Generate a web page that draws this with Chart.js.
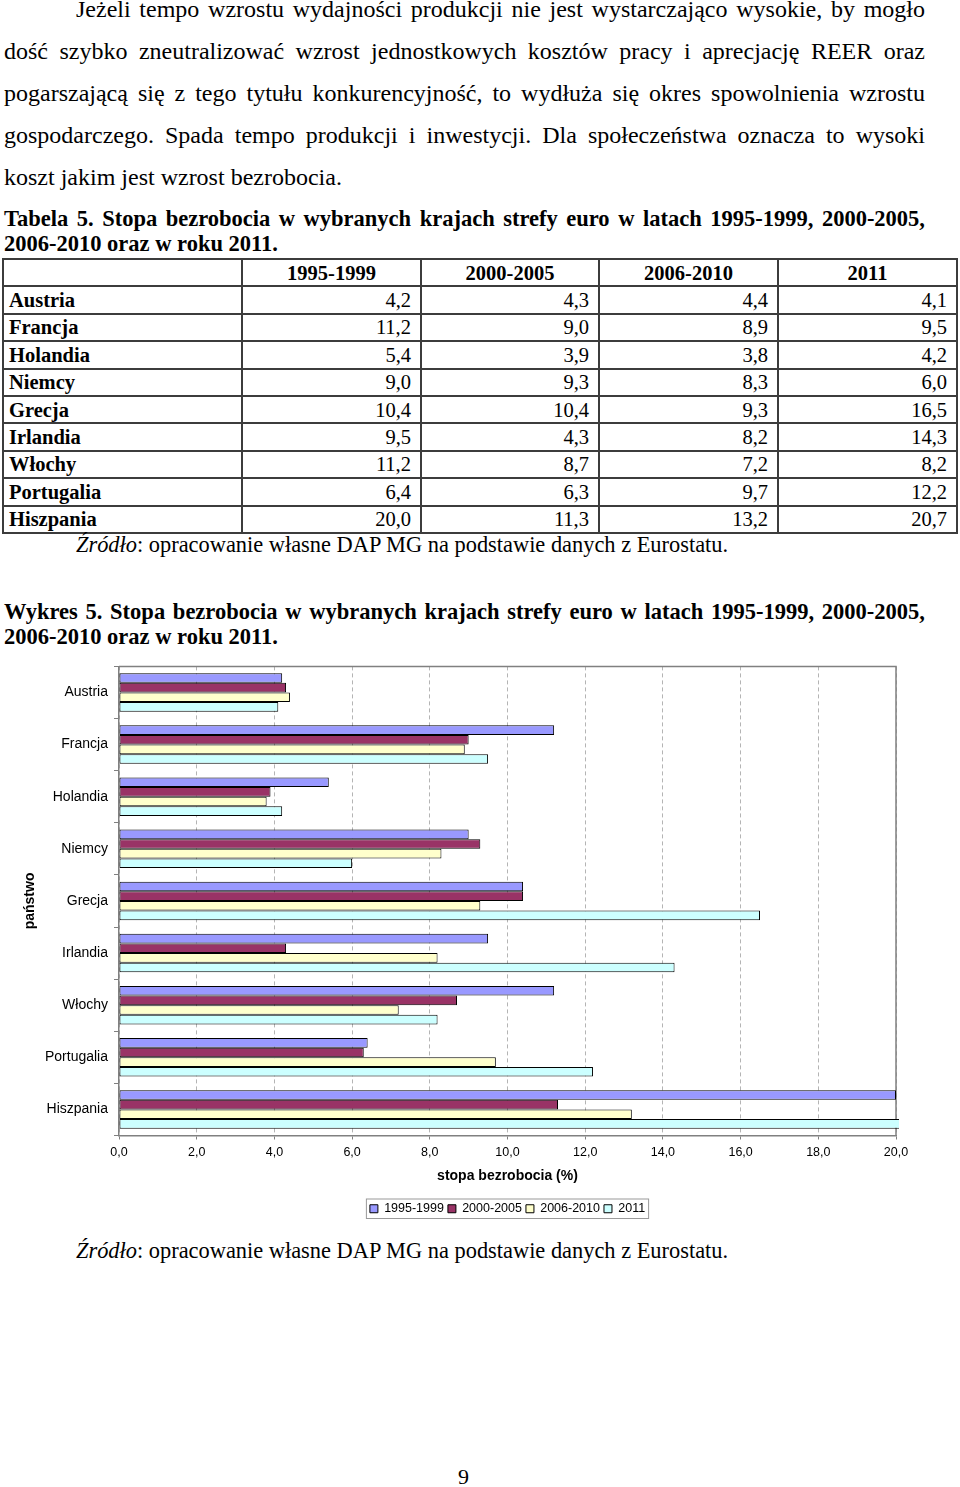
<!DOCTYPE html>
<html lang="pl">
<head>
<meta charset="utf-8">
<title>Stopa bezrobocia w wybranych krajach strefy euro</title>
<script src="https://cdn.jsdelivr.net/npm/chart.js@4.4.1/dist/chart.umd.min.js"></script>
<style>
  body { margin: 0; background: #fff; color: #000; font-family: "Liberation Serif", "Times New Roman", serif; }
  .page { position: relative; width: 960px; height: 1487px; overflow: hidden; background: #fff; }
  .block { position: absolute; left: 4px; width: 921px; }
  .block div { text-align: justify; text-align-last: justify; }
  .block div.last { text-align: left; text-align-last: left; }
  .para { top: -11.9px; font-size: 24px; line-height: 42.1px; }
  .para .indent { padding-left: 72px; }
  .caption { font-size: 22.5px; line-height: 24.7px; font-weight: bold; }
  .source { position: absolute; left: 76px; font-size: 22.4px; line-height: 26px; white-space: nowrap; }
  table { position: absolute; left: 2px; top: 258px; width: 954px; border-collapse: collapse; font-size: 20.5px; table-layout: fixed; }
  td, th { border: 2px solid #3c3c3c; height: 27.4px; padding: 0 9px; box-sizing: border-box; line-height: 22px; }
  th { font-weight: bold; text-align: center; }
  td.name { font-weight: bold; text-align: left; padding-left: 5px; }
  td.num { text-align: right; }
  #chartBox { position: absolute; left: 0; top: 652px; width: 960px; height: 573px; }
  .pageno { position: absolute; left: 458px; top: 1464px; font-size: 22px; line-height: 25px; }
</style>
</head>
<body>
<div class="page">
  <div class="block para">
    <div class="indent">Jeżeli tempo wzrostu wydajności produkcji nie jest wystarczająco wysokie, by mogło</div>
    <div>dość szybko zneutralizować wzrost jednostkowych kosztów pracy i aprecjację REER oraz</div>
    <div>pogarszającą się z tego tytułu konkurencyjność, to wydłuża się okres spowolnienia wzrostu</div>
    <div>gospodarczego. Spada tempo produkcji i inwestycji. Dla społeczeństwa oznacza to wysoki</div>
    <div class="last">koszt jakim jest wzrost bezrobocia.</div>
  </div>

  <div class="block caption" style="top:207.2px">
    <div>Tabela 5. Stopa bezrobocia w wybranych krajach strefy euro w latach 1995-1999, 2000-2005,</div>
    <div class="last">2006-2010 oraz w roku 2011.</div>
  </div>

  <table id="dataTable">
    <colgroup><col style="width:239px"><col style="width:179px"><col style="width:178px"><col style="width:179px"><col style="width:179px"></colgroup>
  </table>

  <div class="source" style="top:531.6px"><i>Źródło</i>: opracowanie własne DAP MG na podstawie danych z Eurostatu.</div>

  <div class="block caption" style="top:600px">
    <div>Wykres 5. Stopa bezrobocia w wybranych krajach strefy euro w latach 1995-1999, 2000-2005,</div>
    <div class="last">2006-2010 oraz w roku 2011.</div>
  </div>

  <div id="chartBox"><canvas id="chartCanvas"></canvas></div>

  <div class="source" style="top:1237.6px"><i>Źródło</i>: opracowanie własne DAP MG na podstawie danych z Eurostatu.</div>

  <div class="pageno">9</div>
</div>

<script>
const countries = ['Austria', 'Francja', 'Holandia', 'Niemcy', 'Grecja', 'Irlandia', 'Włochy', 'Portugalia', 'Hiszpania'];
const periods = ['1995-1999', '2000-2005', '2006-2010', '2011'];
const rate1995_1999 = [4.2, 11.2, 5.4, 9.0, 10.4, 9.5, 11.2, 6.4, 20.0];
const rate2000_2005 = [4.3, 9.0, 3.9, 9.3, 10.4, 4.3, 8.7, 6.3, 11.3];
const rate2006_2010 = [4.4, 8.9, 3.8, 8.3, 9.3, 8.2, 7.2, 9.7, 13.2];
const rate2011 = [4.1, 9.5, 4.2, 6.0, 16.5, 14.3, 8.2, 12.2, 20.7];
const seriesColors = ['#9999FF', '#993366', '#FFFFCC', '#CCFFFF'];

const allSeries = [rate1995_1999, rate2000_2005, rate2006_2010, rate2011];

function fmt(v) {
    return v.toFixed(1).replace('.', ',');
}

// table above the chart, from the same arrays
function buildTable() {
    const table = document.getElementById('dataTable');
    let head = '<tr><th></th>';
    periods.forEach(p => { head += '<th>' + p + '</th>'; });
    head += '</tr>';
    let rows = '';
    countries.forEach((c, i) => {
        rows += '<tr><td class="name">' + c + '</td>';
        allSeries.forEach(s => { rows += '<td class="num">' + fmt(s[i]) + '</td>'; });
        rows += '</tr>';
    });
    table.insertAdjacentHTML('beforeend', head + rows);
}
buildTable();

const framePlugin = {
    id: 'frame',
    beforeDatasetsDraw(chart) {
        const {ctx, chartArea: a} = chart;
        ctx.save();
        ctx.strokeStyle = '#808080';
        ctx.lineWidth = 1.5;
        ctx.beginPath();
        ctx.moveTo(a.left, a.top);
        ctx.lineTo(a.right, a.top);
        ctx.lineTo(a.right, a.bottom);
        ctx.stroke();
        ctx.restore();
    },
    afterDraw(chart) {
        const boxes = chart.legend.legendHitBoxes;
        if (!boxes || !boxes.length) return;
        const left = Math.min(...boxes.map(b => b.left));
        const right = Math.max(...boxes.map(b => b.left + b.width));
        const top = Math.min(...boxes.map(b => b.top));
        const bottom = Math.max(...boxes.map(b => b.top + b.height));
        const ctx = chart.ctx;
        ctx.save();
        ctx.strokeStyle = '#9a9a9a';
        ctx.lineWidth = 1;
        ctx.strokeRect(left - 3.5, top - 3.5, right - left + 7, bottom - top + 7);
        ctx.restore();
    }
};

const ctx = document.getElementById('chartCanvas').getContext('2d');
new Chart(ctx, {
    type: 'bar',
    data: {
        labels: countries,
        datasets: periods.map((p, i) => ({
            label: p,
            data: allSeries[i],
            backgroundColor: seriesColors[i],
            borderColor: '#000',
            borderWidth: 1,
            borderSkipped: false,
            barPercentage: 1,
            categoryPercentage: 0.74,
            clip: {left: 1, top: 1, right: 3, bottom: 1}
        }))
    },
    options: {
        indexAxis: 'y',
        responsive: true,
        maintainAspectRatio: false,
        animation: false,
        layout: { padding: { top: 7, right: 64, left: 0, bottom: 0 } },
        plugins: {
            legend: {
                position: 'bottom',
                fullSize: false,
                labels: {
                    boxWidth: 8,
                    boxHeight: 8,
                    padding: 4,
                    color: '#000',
                    font: { family: '"Liberation Sans", Arial, sans-serif', size: 12.5 }
                }
            },
            tooltip: { enabled: false }
        },
        scales: {
            x: {
                min: 0,
                max: 20,
                ticks: {
                    stepSize: 2,
                    padding: 6,
                    color: '#000',
                    font: { family: '"Liberation Sans", Arial, sans-serif', size: 12.5 },
                    callback: v => fmt(v)
                },
                grid: { color: '#b4b4b4', lineWidth: 1, tickLength: 4, tickColor: '#808080' },
                border: { display: true, color: '#808080', width: 1.5, dash: [4, 3] },
                title: {
                    display: true,
                    text: 'stopa bezrobocia (%)',
                    color: '#000',
                    padding: { top: 0, bottom: 13.6 },
                    font: { family: '"Liberation Sans", Arial, sans-serif', size: 14, weight: 'bold' }
                },
                afterFit: scale => { scale.height = 63; }
            },
            y: {
                ticks: {
                    autoSkip: false,
                    padding: 6,
                    color: '#000',
                    font: { family: '"Liberation Sans", Arial, sans-serif', size: 14 }
                },
                grid: { offset: true, drawOnChartArea: false, tickLength: 5, color: '#808080' },
                border: { display: true, color: '#808080', width: 1.5 },
                title: {
                    display: true,
                    text: 'państwo',
                    color: '#000',
                    padding: { top: 21.6, bottom: 0 },
                    font: { family: '"Liberation Sans", Arial, sans-serif', size: 14, weight: 'bold' }
                },
                afterFit: scale => { scale.width = 119; }
            }
        }
    },
    plugins: [framePlugin]
});
</script>
</body>
</html>
